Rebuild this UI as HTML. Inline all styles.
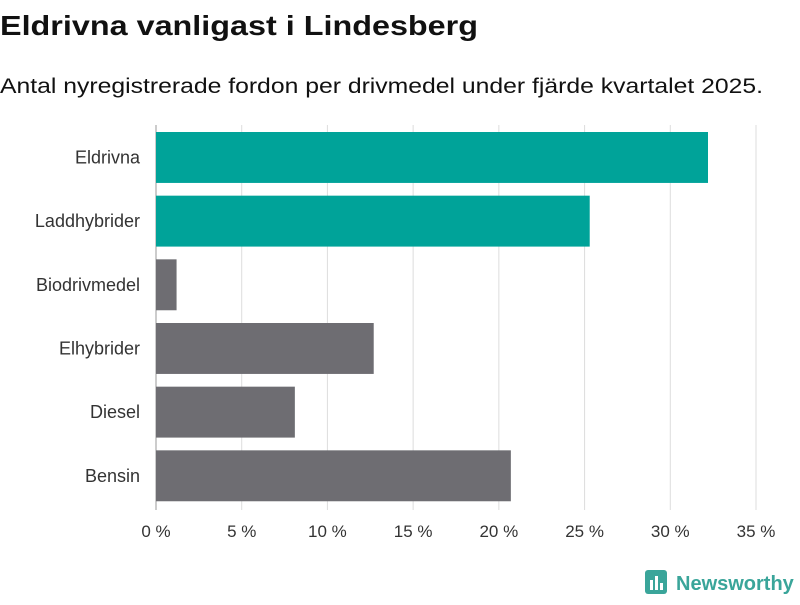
<!DOCTYPE html>
<html><head><meta charset="utf-8">
<style>
body{margin:0;width:800px;height:600px;background:#fff;font-family:"Liberation Sans",sans-serif;overflow:hidden}
</style></head>
<body>
<svg width="800" height="600" xmlns="http://www.w3.org/2000/svg">
<text x="0" y="35" font-size="28" font-weight="bold" fill="#111" textLength="478" lengthAdjust="spacingAndGlyphs">Eldrivna vanligast i Lindesberg</text>
<text x="0" y="93" font-size="21" fill="#111" textLength="763" lengthAdjust="spacingAndGlyphs">Antal nyregistrerade fordon per drivmedel under fjärde kvartalet 2025.</text>
<g id="grid"></g>
<g id="bars"></g>
<g id="ylabels"></g>
<g id="xlabels"></g>
<g>
<rect x="645" y="570" width="22" height="24" rx="3" fill="#3aa59a"/>
<rect x="650" y="580" width="3" height="10" fill="#fff"/>
<rect x="655" y="576" width="3" height="14" fill="#fff"/>
<rect x="660" y="583" width="3" height="7" fill="#fff"/>
<text x="676" y="590" font-size="20" font-weight="bold" fill="#3aa59a">Newsworthy</text>
</g>
</svg>
<script>
const categories=["Eldrivna","Laddhybrider","Biodrivmedel","Elhybrider","Diesel","Bensin"];
const values=[32.2,25.3,1.2,12.7,8.1,20.7];
const highlight=[true,true,false,false,false,false];
const ticks=[0,5,10,15,20,25,30,35];
const ns="http://www.w3.org/2000/svg";
const x0=156,x1=756,plotTop=125,plotBot=510,maxV=35;
const xs=v=>x0+(v/maxV)*(x1-x0);
const band=(plotBot-plotTop-3)/categories.length;
function mk(t,a,p){const e=document.createElementNS(ns,t);for(const k in a)e.setAttribute(k,a[k]);p.appendChild(e);return e;}
const g=document.getElementById('grid'),b=document.getElementById('bars'),yl=document.getElementById('ylabels'),xl=document.getElementById('xlabels');
ticks.forEach(t=>{
 const l=mk('line',{x1:xs(t),x2:xs(t),y1:plotTop,y2:plotBot,stroke:t===0?'#999':'#ddd','stroke-width':1},g);
 
 
 const tx=mk('text',{x:xs(t),y:537,'font-size':17,'text-anchor':'middle',fill:'#333'},xl);
 tx.textContent=t+' %';
 
 
});
categories.forEach((c,i)=>{
 const y=plotTop+5+i*band;
 const r=mk('rect',{x:x0,y:y+2,width:xs(values[i])-x0,height:band*0.8,fill:highlight[i]?'#00a399':'#6e6d72'},b);
 
 
 const t=mk('text',{x:140,y:y+2+band*0.4+6,'font-size':18,'text-anchor':'end',fill:'#333'},yl);
 t.textContent=c;
 
 
});
</script>
</body></html>
